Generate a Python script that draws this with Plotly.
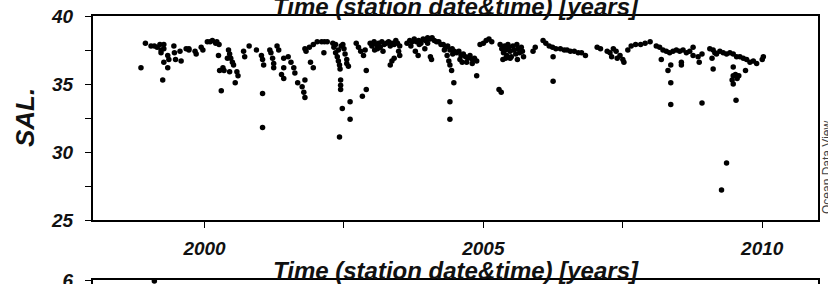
import plotly.graph_objects as go

# ---- data ----
year = [
    1998.86, 1998.94, 1999.04, 1999.10, 1999.15, 1999.20, 1999.22, 1999.22, 1999.27, 1999.27,
    1999.27, 1999.25, 1999.34, 1999.36, 1999.34, 1999.45, 1999.46, 1999.48, 1999.56, 1999.58,
    1999.67, 1999.72, 1999.72, 1999.83, 1999.85, 1999.94, 1999.97, 2000.05, 2000.10, 2000.14,
    2000.20, 2000.22, 2000.26, 2000.25, 2000.33, 2000.27, 2000.35, 2000.45, 2000.30, 2000.41,
    2000.43, 2000.45, 2000.47, 2000.50, 2000.52, 2000.55, 2000.58, 2000.60, 2000.70, 2000.72,
    2000.80, 2000.93, 2001.02, 2001.04, 2001.06, 2001.04, 2001.04, 2001.17, 2001.19, 2001.22,
    2001.24, 2001.24, 2001.30, 2001.33, 2001.42, 2001.42, 2001.38, 2001.42, 2001.50, 2001.55,
    2001.60, 2001.62, 2001.67, 2001.75, 2001.78, 2001.80, 2001.82, 2001.90, 2001.95,
    2001.80, 2001.80, 2001.88, 2001.95, 2002.02, 2002.10, 2002.15, 2002.20, 2002.14,
    2002.30, 2002.32, 2002.35, 2002.38, 2002.40, 2002.42, 2002.43, 2002.44, 2002.44, 2002.44,
    2002.47, 2002.42, 2002.48, 2002.50, 2002.52, 2002.55, 2002.55, 2002.58, 2002.61, 2002.61,
    2002.35, 2002.40, 2002.45,
    2002.72, 2002.76, 2002.80, 2002.85, 2002.90, 2002.83, 2002.90, 2002.88,
    2002.97, 2003.00, 2003.04, 2003.08, 2003.12, 2003.15, 2003.18, 2003.22, 2003.26, 2003.30,
    2003.33, 2003.36, 2003.40, 2003.43, 2003.46, 2003.50, 2003.05, 2003.20, 2003.10,
    2003.33, 2003.36, 2003.40, 2003.48, 2003.50,
    2003.63, 2003.68, 2003.72, 2003.76, 2003.80, 2003.84, 2003.88, 2003.92, 2003.96, 2004.00,
    2004.04, 2004.08, 2004.12, 2004.16, 2003.70, 2003.85, 2004.00, 2003.78, 2003.83, 2004.05,
    2004.07, 2003.95,
    2004.20, 2004.24, 2004.28, 2004.32, 2004.36, 2004.40, 2004.44, 2004.48, 2004.52, 2004.56,
    2004.60, 2004.64, 2004.68, 2004.72, 2004.76, 2004.80, 2004.84, 2004.88, 2004.30, 2004.45,
    2004.58, 2004.70, 2004.80, 2004.62,
    2004.35, 2004.38, 2004.40, 2004.43, 2004.47, 2004.40, 2004.40, 2004.88,
    2004.94, 2005.00, 2005.05, 2005.10, 2005.15,
    2005.28, 2005.32,
    2005.30, 2005.33, 2005.36, 2005.38, 2005.40, 2005.42, 2005.44, 2005.46, 2005.48, 2005.50,
    2005.53, 2005.55, 2005.58, 2005.60, 2005.62, 2005.65, 2005.68, 2005.70, 2005.72, 2005.35,
    2005.48, 2005.40, 2005.61,
    2005.89, 2005.93,
    2006.07, 2006.12, 2006.18, 2006.24, 2006.30, 2006.38, 2006.45, 2006.50, 2006.56, 2006.63,
    2006.70, 2006.76, 2006.83, 2006.25, 2006.25,
    2007.04, 2007.10, 2007.22, 2007.27, 2007.33, 2007.38, 2007.45, 2007.50, 2007.52, 2007.30,
    2007.40,
    2007.59, 2007.65, 2007.73, 2007.82, 2007.90, 2007.99,
    2008.10, 2008.16, 2008.22, 2008.28, 2008.34, 2008.40, 2008.46, 2008.52, 2008.58, 2008.64,
    2008.70, 2008.19, 2008.31, 2008.36, 2008.36, 2008.36, 2008.55, 2008.55,
    2008.76, 2008.76, 2008.85, 2008.87, 2008.92, 2008.92,
    2009.06, 2009.12, 2009.15, 2009.18, 2009.24, 2009.30, 2009.36, 2009.42, 2009.10, 2009.12,
    2009.48, 2009.54, 2009.60, 2009.66, 2009.72, 2009.78, 2009.84, 2009.90, 2010.02, 2010.00,
    2009.48, 2009.48, 2009.46, 2009.48, 2009.52, 2009.58, 2009.70, 2009.53, 2009.55,
    2009.36, 2009.27,
]
salinity = [
    36.2, 38.0, 37.8, 37.8, 37.7, 37.9, 37.5, 37.3, 37.9, 37.6,
    36.6, 35.3, 37.1, 36.8, 36.2, 37.8, 37.3, 36.8, 37.4, 36.7,
    37.6, 37.6, 37.5, 37.4, 37.2, 37.7, 37.5, 38.1, 38.1, 38.2,
    38.0, 38.1, 37.9, 37.1, 36.2, 36.0, 36.0, 35.9, 34.5, 36.9,
    37.5, 37.2, 36.9, 36.6, 36.4, 35.1, 35.9, 35.6, 37.4, 37.0,
    37.8, 37.5, 37.1, 36.8, 36.4, 34.3, 31.8, 37.5, 37.3, 36.9,
    36.5, 36.2, 37.8, 37.5, 36.9, 36.2, 35.7, 35.4, 37.0, 36.6,
    36.2, 35.8, 35.1, 34.8, 34.4, 37.6, 37.4, 36.6, 36.2,
    35.3, 34.0, 37.7, 37.9, 38.1, 38.1, 38.1, 38.1, 37.3,
    38.0, 37.7, 37.3, 37.0, 36.7, 36.4, 36.1, 35.3, 34.9, 34.6,
    33.2, 31.1, 37.9, 37.6, 37.2, 36.8, 36.5, 36.3, 33.7, 32.4,
    37.9, 37.5, 37.8,
    38.0, 37.7, 37.4, 37.1, 36.0, 34.1, 34.6, 37.5,
    38.0, 37.8, 38.1, 37.9, 38.0, 37.7, 38.1, 37.9, 38.0, 38.1,
    37.8, 38.0, 37.9, 38.2, 38.0, 37.8, 37.5, 37.4, 37.6,
    36.4, 36.7, 36.9, 37.4, 37.1,
    38.0, 38.2, 38.1, 38.3, 38.1, 38.2, 38.0, 38.3, 38.2, 38.4,
    38.3, 38.4, 38.2, 38.1, 37.8, 37.9, 38.0, 37.4, 37.1, 37.0,
    36.8, 37.6,
    38.1, 37.9, 37.9, 37.7, 37.8, 37.5, 37.6, 37.4, 37.3, 37.4,
    37.1, 37.2, 37.0, 36.9, 37.1, 36.8, 36.9, 36.7, 37.5, 37.2,
    36.8, 36.6, 36.5, 36.6,
    37.1, 36.7, 36.4, 36.0, 35.1, 33.7, 32.4, 35.6,
    37.9, 38.0, 38.2, 38.3, 38.1,
    34.6, 34.4,
    37.9, 37.6, 37.3, 37.8, 37.5, 37.1, 37.9, 37.7, 37.4, 37.0,
    37.8, 37.5, 37.2, 37.9, 37.6, 37.3, 37.7, 37.4, 37.0, 36.8,
    36.9, 36.9, 36.8,
    37.4, 37.7,
    38.2, 38.0, 37.8, 37.7, 37.6, 37.6, 37.5, 37.5, 37.4, 37.4,
    37.3, 37.3, 37.1, 37.0, 35.2,
    37.7, 37.6, 37.4, 37.3, 37.6, 37.4, 37.1, 36.8, 36.6, 37.0,
    36.9,
    37.5, 37.8, 37.9, 37.9, 38.0, 38.1,
    37.8, 37.7, 37.5, 37.4, 37.3, 37.4, 37.5, 37.4, 37.5, 37.3,
    37.4, 36.8, 36.0, 36.4, 35.1, 33.5, 36.6, 36.4,
    37.7, 37.1, 37.0, 36.6, 37.2, 33.6,
    37.6, 37.5, 37.3, 37.2, 37.4, 37.3, 37.2, 37.3, 36.9, 36.1,
    37.2, 37.0, 37.0, 36.9, 36.8, 36.6, 36.7, 36.5, 37.0, 36.8,
    36.25, 35.6, 35.3, 35.0, 35.7, 35.6, 36.0, 33.8, 35.4,
    29.2, 27.2,
]

# second (lower) panel, only its top edge is visible
panel2_year = [1999.1]
panel2_value = [5.975]

x_ticks = [2000, 2002.5, 2005, 2007.5, 2010]
x_labels = ["2000", "", "2005", "", "2010"]
y_ticks = [25, 27.5, 30, 32.5, 35, 37.5, 40]
y_labels = ["25", "", "30", "", "35", "", "40"]

W, H = 828, 284
FONT = "Liberation Sans"
bi = dict(family=FONT, weight="bold", style="italic", color="#111")

fig = go.Figure()
fig.add_trace(go.Scatter(x=year, y=salinity, mode="markers",
                         marker=dict(color="black", size=5.5, line=dict(width=0)),
                         xaxis="x", yaxis="y", hoverinfo="x+y"))
fig.add_trace(go.Scatter(x=panel2_year, y=panel2_value, mode="markers",
                         marker=dict(color="black", size=5.5, line=dict(width=0)),
                         xaxis="x2", yaxis="y2"))

x0, x1 = 93 / W, 818 / W
axis_common = dict(showline=True, linecolor="black", linewidth=2, mirror=True,
                   showgrid=False, zeroline=False, ticks="outside", automargin=False,
                   ticklen=6, tickwidth=1.2, tickcolor="black", ticklabeloverflow="allow")

fig.update_layout(
    width=W, height=H, margin=dict(l=0, r=0, t=0, b=0, autoexpand=False),
    paper_bgcolor="white", plot_bgcolor="white", showlegend=False,
    xaxis=dict(domain=[x0, x1], range=[1998, 2011], tickvals=x_ticks, ticktext=x_labels,
               tickfont=dict(size=19, **bi), ticklabelstandoff=4, anchor="y", **axis_common),
    yaxis=dict(domain=[1 - 220 / H, 1 - 16 / H], range=[25, 40], tickvals=y_ticks,
               ticktext=y_labels, tickfont=dict(size=19, **bi), ticklabelstandoff=8,
               anchor="x", **axis_common),
    xaxis2=dict(domain=[x0, x1], range=[1998, 2011], tickvals=x_ticks, ticktext=x_labels,
                showticklabels=False, anchor="y2", **axis_common),
    yaxis2=dict(domain=[0, 1 - 280 / H], range=[5.9, 6.0], tickvals=[6], ticktext=["6"],
                tickfont=dict(size=19, **bi), ticklabelstandoff=8, anchor="x2", **axis_common),
)

title_txt = "Time (station date&time) [years]"
cx = (93 + 818) / 2 / W
fig.add_annotation(x=cx, y=1 - 16 / H, xref="paper", yref="paper", text=title_txt,
                   showarrow=False, xanchor="center", yanchor="bottom", yshift=-6,
                   font=dict(size=24, **bi))
fig.add_annotation(x=cx, y=1 - 280 / H, xref="paper", yref="paper", text=title_txt,
                   showarrow=False, xanchor="center", yanchor="bottom", yshift=-6,
                   font=dict(size=24, **bi))
fig.add_annotation(x=25 / W, y=1 - 118 / H, xref="paper", yref="paper", text="SAL.",
                   showarrow=False, textangle=-90, xanchor="center", yanchor="middle",
                   font=dict(size=26, **bi))
fig.add_annotation(x=827 / W, y=1 - 168 / H, xref="paper", yref="paper",
                   text="Ocean Data View", showarrow=False, textangle=-90,
                   xanchor="center", yanchor="middle",
                   font=dict(family=FONT, size=12, color="#444"))

fig.write_html("out.html", config={"displayModeBar": False},
               post_script="document.body.style.margin='0';document.body.style.overflow='hidden';")
